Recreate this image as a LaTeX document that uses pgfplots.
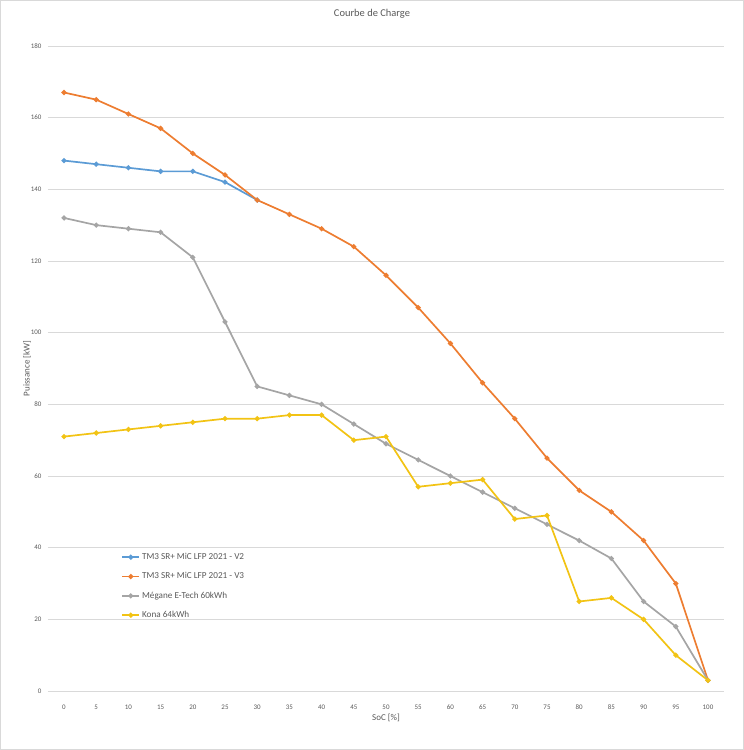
\documentclass[border=0pt]{standalone}
\usepackage{pgfplots}
\pgfplotsset{compat=1.18}
\usepackage{fontspec}
\setmainfont{Carlito}
\definecolor{cblue}{HTML}{5B9BD5}
\definecolor{corange}{HTML}{ED7D31}
\definecolor{cgray}{HTML}{A5A5A5}
\definecolor{cgold}{HTML}{F2C314}
\definecolor{ctext}{HTML}{595959}
\definecolor{cgrid}{HTML}{D9D9D9}
\begin{document}
\begin{tikzpicture}
\draw[color=cgrid, line width=0.8bp] (0.5bp,0.5bp) rectangle (743.5bp,749.5bp);
\node[text=ctext, font=\fontsize{10.5}{12}\selectfont] at (372bp,736bp) {Courbe de Charge};
\begin{axis}[
  at={(48bp,59bp)}, anchor=south west,
  scale only axis, width=676bp, height=645bp,
  xmin=-2.5, xmax=102.5, ymin=0, ymax=180,
  xtick={0,5,...,100}, ytick={0,20,...,180},
  axis line style={draw=none},
  major tick length=0pt,
  ymajorgrids, grid style={cgrid, line width=0.75bp},
  /pgf/number format/assume math mode=true,
  tick label style={text=ctext, font=\fontsize{7}{8}\selectfont},
  xticklabel style={anchor=center, yshift=-16bp},
  yticklabel style={anchor=east, xshift=-3bp},
  xlabel={SoC [\%]}, ylabel={Puissance [kW]},
  label style={text=ctext, font=\fontsize{9}{10}\selectfont},
  xlabel style={at={(axis description cs:0.5,-0.042)}, anchor=center},
  ylabel style={at={(axis description cs:-0.031,0.5)}, anchor=center},
  legend style={at={(0.104,0.220)}, anchor=north west, draw=none, fill=none,
    font=\fontsize{9.2}{11}\selectfont, text=ctext, row sep=7.5bp,
    cells={anchor=west}},
  every axis plot/.append style={line width=1.7bp, mark=*, mark size=1.6bp, mark options={solid}},
]
\addplot[color=cblue] coordinates {(0,148) (5,147) (10,146) (15,145) (20,145) (25,142) (30,137)};
\addlegendentry{TM3 SR+ MiC LFP 2021 - V2}
\addplot[color=corange] coordinates {(0,167) (5,165) (10,161) (15,157) (20,150) (25,144) (30,137) (35,133) (40,129) (45,124) (50,116) (55,107) (60,97) (65,86) (70,76) (75,65) (80,56) (85,50) (90,42) (95,30) (100,3)};
\addlegendentry{TM3 SR+ MiC LFP 2021 - V3}
\addplot[color=cgray] coordinates {(0,132) (5,130) (10,129) (15,128) (20,121) (25,103) (30,85) (35,82.5) (40,80) (45,74.5) (50,69) (55,64.5) (60,60) (65,55.5) (70,51) (75,46.5) (80,42) (85,37) (90,25) (95,18) (100,3)};
\addlegendentry{Mégane E-Tech 60kWh}
\addplot[color=cgold] coordinates {(0,71) (5,72) (10,73) (15,74) (20,75) (25,76) (30,76) (35,77) (40,77) (45,70) (50,71) (55,57) (60,58) (65,59) (70,48) (75,49) (80,25) (85,26) (90,20) (95,10) (100,3)};
\addlegendentry{Kona 64kWh}
\end{axis}
\end{tikzpicture}
\end{document}
